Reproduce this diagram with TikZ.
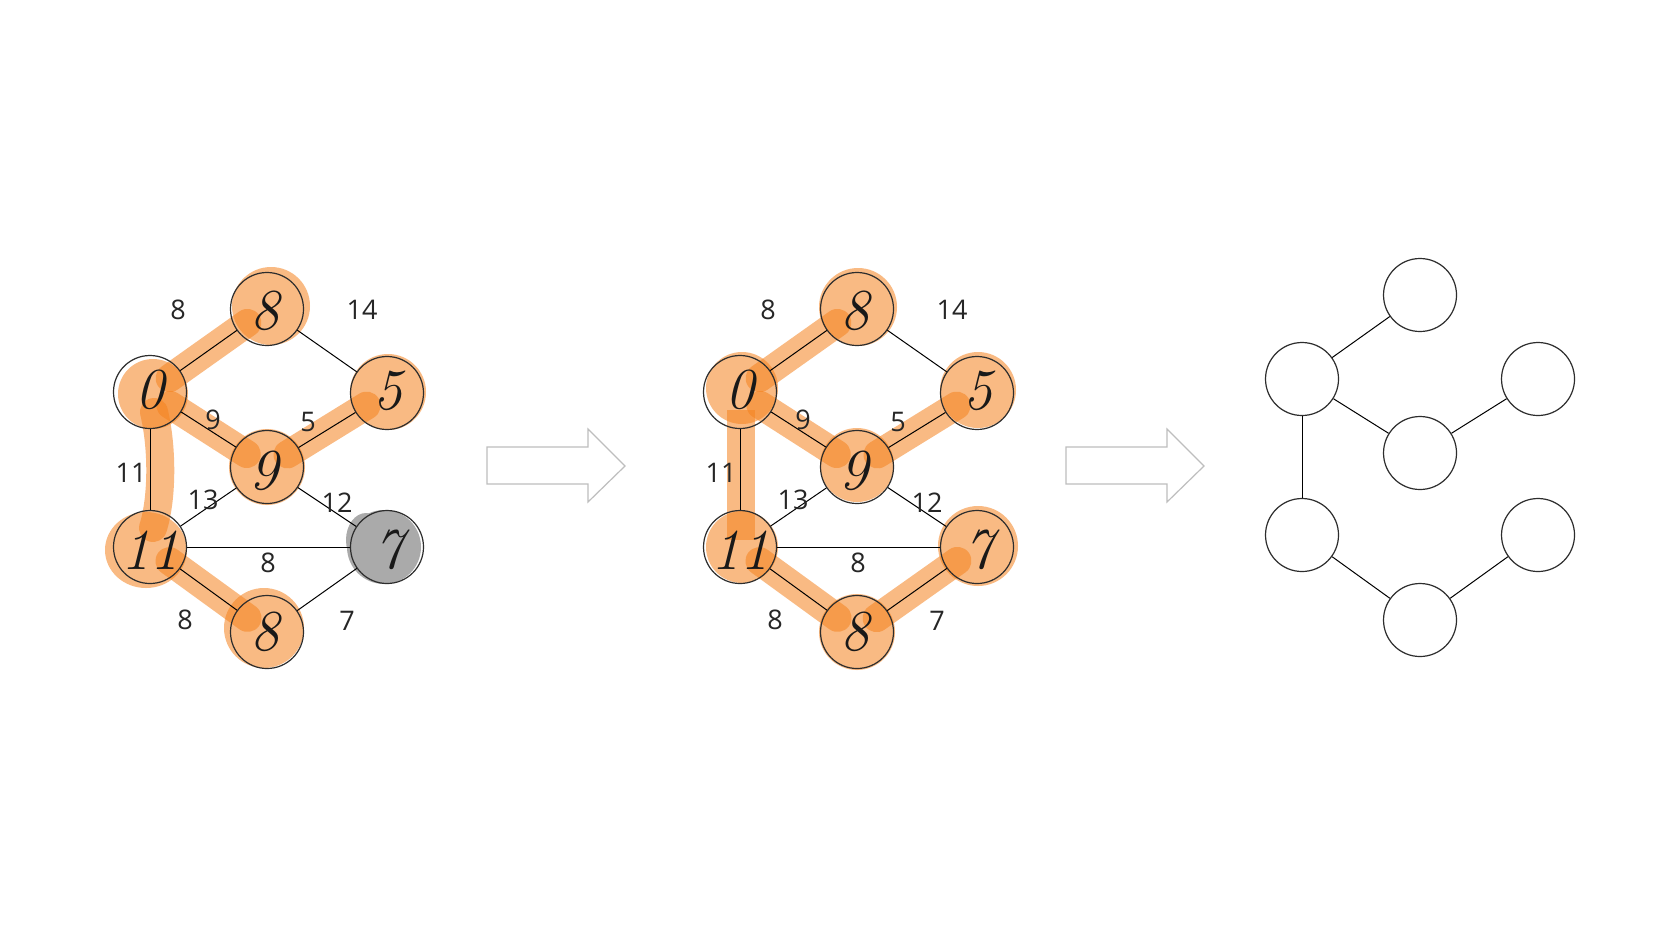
\documentclass[tikz,border=0pt]{standalone}
\usepackage{fontspec}
\newfontfamily\labfont{Open Sans}
\usetikzlibrary{calc}
\definecolor{hl}{RGB}{245,130,30}
\definecolor{ln}{RGB}{45,45,45}
\definecolor{arrowgray}{RGB}{190,190,190}
\definecolor{graynode}{RGB}{170,170,170}
\newcommand\positions[1]{%
  \coordinate (#1p0)  at (150,392);
  \coordinate (#1p8t) at (267,309);
  \coordinate (#1p5)  at (387,393);
  \coordinate (#1p9)  at (267,467);
  \coordinate (#1p11) at (150,547);
  \coordinate (#1p7)  at (387,547);
  \coordinate (#1p8b) at (267,632);
}
\newcommand\basegraph[1]{%
  \node[vertex] (#1n0)  at (#1p0) {};
  \node[vertex] (#1n8t) at (#1p8t) {};
  \node[vertex] (#1n5)  at (#1p5) {};
  \node[vertex] (#1n9)  at (#1p9) {};
  \node[vertex] (#1n11) at (#1p11) {};
  \node[vertex] (#1n7)  at (#1p7) {};
  \node[vertex] (#1n8b) at (#1p8b) {};
  \draw[edge] (#1n0) -- (#1n8t);
  \draw[edge] (#1n8t) -- (#1n5);
  \draw[edge] (#1n0) -- (#1n9);
  \draw[edge] (#1n9) -- (#1n5);
  \draw[edge] (#1n0) -- (#1n11);
  \draw[edge] (#1n9) -- (#1n11);
  \draw[edge] (#1n9) -- (#1n7);
  \draw[edge] (#1n11) -- (#1n7);
  \draw[edge] (#1n11) -- (#1n8b);
  \draw[edge] (#1n8b) -- (#1n7);
}
\newcommand\weights[1]{%
  \node[wlabel] (#1w08)  at (178,310) {8};
  \node[wlabel] (#1w85)  at (362,310) {14};
  \node[wlabel] (#1w09)  at (213,420) {9};
  \node[wlabel] (#1w95)  at (308,422) {5};
  \node[wlabel] (#1w011) at (131,473) {11};
  \node[wlabel] (#1w911) at (203,500) {13};
  \node[wlabel] (#1w97)  at (337,503) {12};
  \node[wlabel] (#1w117) at (268,563) {8};
  \node[wlabel] (#1w118) at (185,620) {8};
  \node[wlabel] (#1w87)  at (347,621) {7};
}
\newcommand\handdigits[1]{%
  \node[hand] (#1h8t) at ($(#1n8t)+(-2,2)$) {8};
  \node[hand] (#1h0)  at ($(#1n0)+(0,-2)$) {0};
  \node[hand] (#1h5)  at ($(#1n5)+(1,-2)$) {5};
  \node[hand] (#1h9)  at ($(#1n9)+(-3,4)$) {9};
  \node[hand] (#1h11) at ($(#1n11)+(0,3)$) {11};
  \node[hand] (#1h7)  at ($(#1n7)+(2,3)$) {7};
  \node[hand] (#1h8b) at ($(#1n8b)+(-2,0)$) {8};
}
\begin{document}
\begin{tikzpicture}[x=0.5pt,y=-0.5pt,
  vertex/.style={circle,draw=ln,line width=0.6pt,minimum size=36.5pt,inner sep=0pt},
  edge/.style={draw=black,line width=0.5pt},
  wlabel/.style={font=\labfont\fontsize{13.5}{16}\selectfont,inner sep=0pt,text=black!85},
  hand/.style={font=\fontsize{29}{36}\selectfont\itshape,inner sep=0pt,text=black!90},
  hlfill/.style={fill=hl,fill opacity=0.55},
  hlband/.style={draw=hl,draw opacity=0.55,line width=14pt,line cap=round},
  blockarrow/.style={draw=arrowgray,line width=0.6pt,fill=white}]
\useasboundingbox[fill=white] (0,0) rectangle (1668,938);

% ---------- graph 1 ----------
\begin{scope}
  \positions{a}
  \fill[graynode] (384,547) circle[radius=37];
  \fill[graynode] (366,540) ellipse[x radius=20,y radius=27];
  \fill[hlfill] (271,306) circle[radius=39];
  \fill[hlfill] (153,394) circle[radius=35];
  \fill[hlfill] (388,392) circle[radius=38];
  \fill[hlfill] (267,467) circle[radius=38];
  \fill[hlfill] (146,550) ellipse[x radius=41,y radius=38];
  \fill[hlfill] (264,628) circle[radius=40];
  \draw[hlband] ($(ap0)!12pt!(ap8t)$) -- ($(ap8t)!12pt!(ap0)$);
  \draw[hlband] ($(ap0)!12pt!(ap9)$) -- ($(ap9)!12pt!(ap0)$);
  \draw[hlband] ($(ap9)!12pt!(ap5)$) -- ($(ap5)!12pt!(ap9)$);
  \draw[hlband] ($(ap11)!12pt!(ap8b)$) -- ($(ap8b)!12pt!(ap11)$);
  \draw[hlband] (154,412) .. controls (163,450) and (162,500) .. (153,528);
  \basegraph{a}
  \weights{a}
  \handdigits{a}
\end{scope}

% ---------- arrows ----------
\draw[blockarrow] (487,447) -- (588,447) -- (588,429) -- (625,466) -- (588,502) -- (588,484) -- (487,484) -- cycle;
\draw[blockarrow] (1066,447) -- (1167,447) -- (1167,429) -- (1204,466) -- (1167,502) -- (1167,484) -- (1066,484) -- cycle;

% ---------- graph 2 ----------
\begin{scope}[shift={(590,0)}]
  \positions{b}
  \fill[hlfill] (268,307) circle[radius=39];
  \fill[hlfill] (152,388) circle[radius=36];
  \fill[hlfill] (388,390) circle[radius=38];
  \fill[hlfill] (267,465) circle[radius=37];
  \fill[hlfill] (152,547) circle[radius=36];
  \fill[hlfill] (388,546) circle[radius=40];
  \fill[hlfill] (267,632) circle[radius=38];
  \draw[hlband] ($(bp0)!12pt!(bp8t)$) -- ($(bp8t)!12pt!(bp0)$);
  \draw[hlband] ($(bp0)!12pt!(bp9)$) -- ($(bp9)!12pt!(bp0)$);
  \draw[hlband] ($(bp9)!12pt!(bp5)$) -- ($(bp5)!12pt!(bp9)$);
  \draw[hlband] ($(bp11)!12pt!(bp8b)$) -- ($(bp8b)!12pt!(bp11)$);
  \draw[hlband] ($(bp8b)!12pt!(bp7)$) -- ($(bp7)!12pt!(bp8b)$);
  \draw[hlband,line cap=butt] (151,410) -- (151,540);
  \basegraph{b}
  \weights{b}
  \handdigits{b}
\end{scope}

% ---------- graph 3 (spanning tree) ----------
\begin{scope}
  \node[vertex] (cn0)  at (1302,379) {};
  \node[vertex] (cn8t) at (1420,295) {};
  \node[vertex] (cn5)  at (1538,379) {};
  \node[vertex] (cn9)  at (1420,453) {};
  \node[vertex] (cn11) at (1302,535) {};
  \node[vertex] (cn7)  at (1538,535) {};
  \node[vertex] (cn8b) at (1420,620) {};
  \draw[edge] (cn0) -- (cn8t);
  \draw[edge] (cn0) -- (cn9);
  \draw[edge] (cn9) -- (cn5);
  \draw[edge] (cn0) -- (cn11);
  \draw[edge] (cn11) -- (cn8b);
  \draw[edge] (cn8b) -- (cn7);
\end{scope}
\end{tikzpicture}
\end{document}
